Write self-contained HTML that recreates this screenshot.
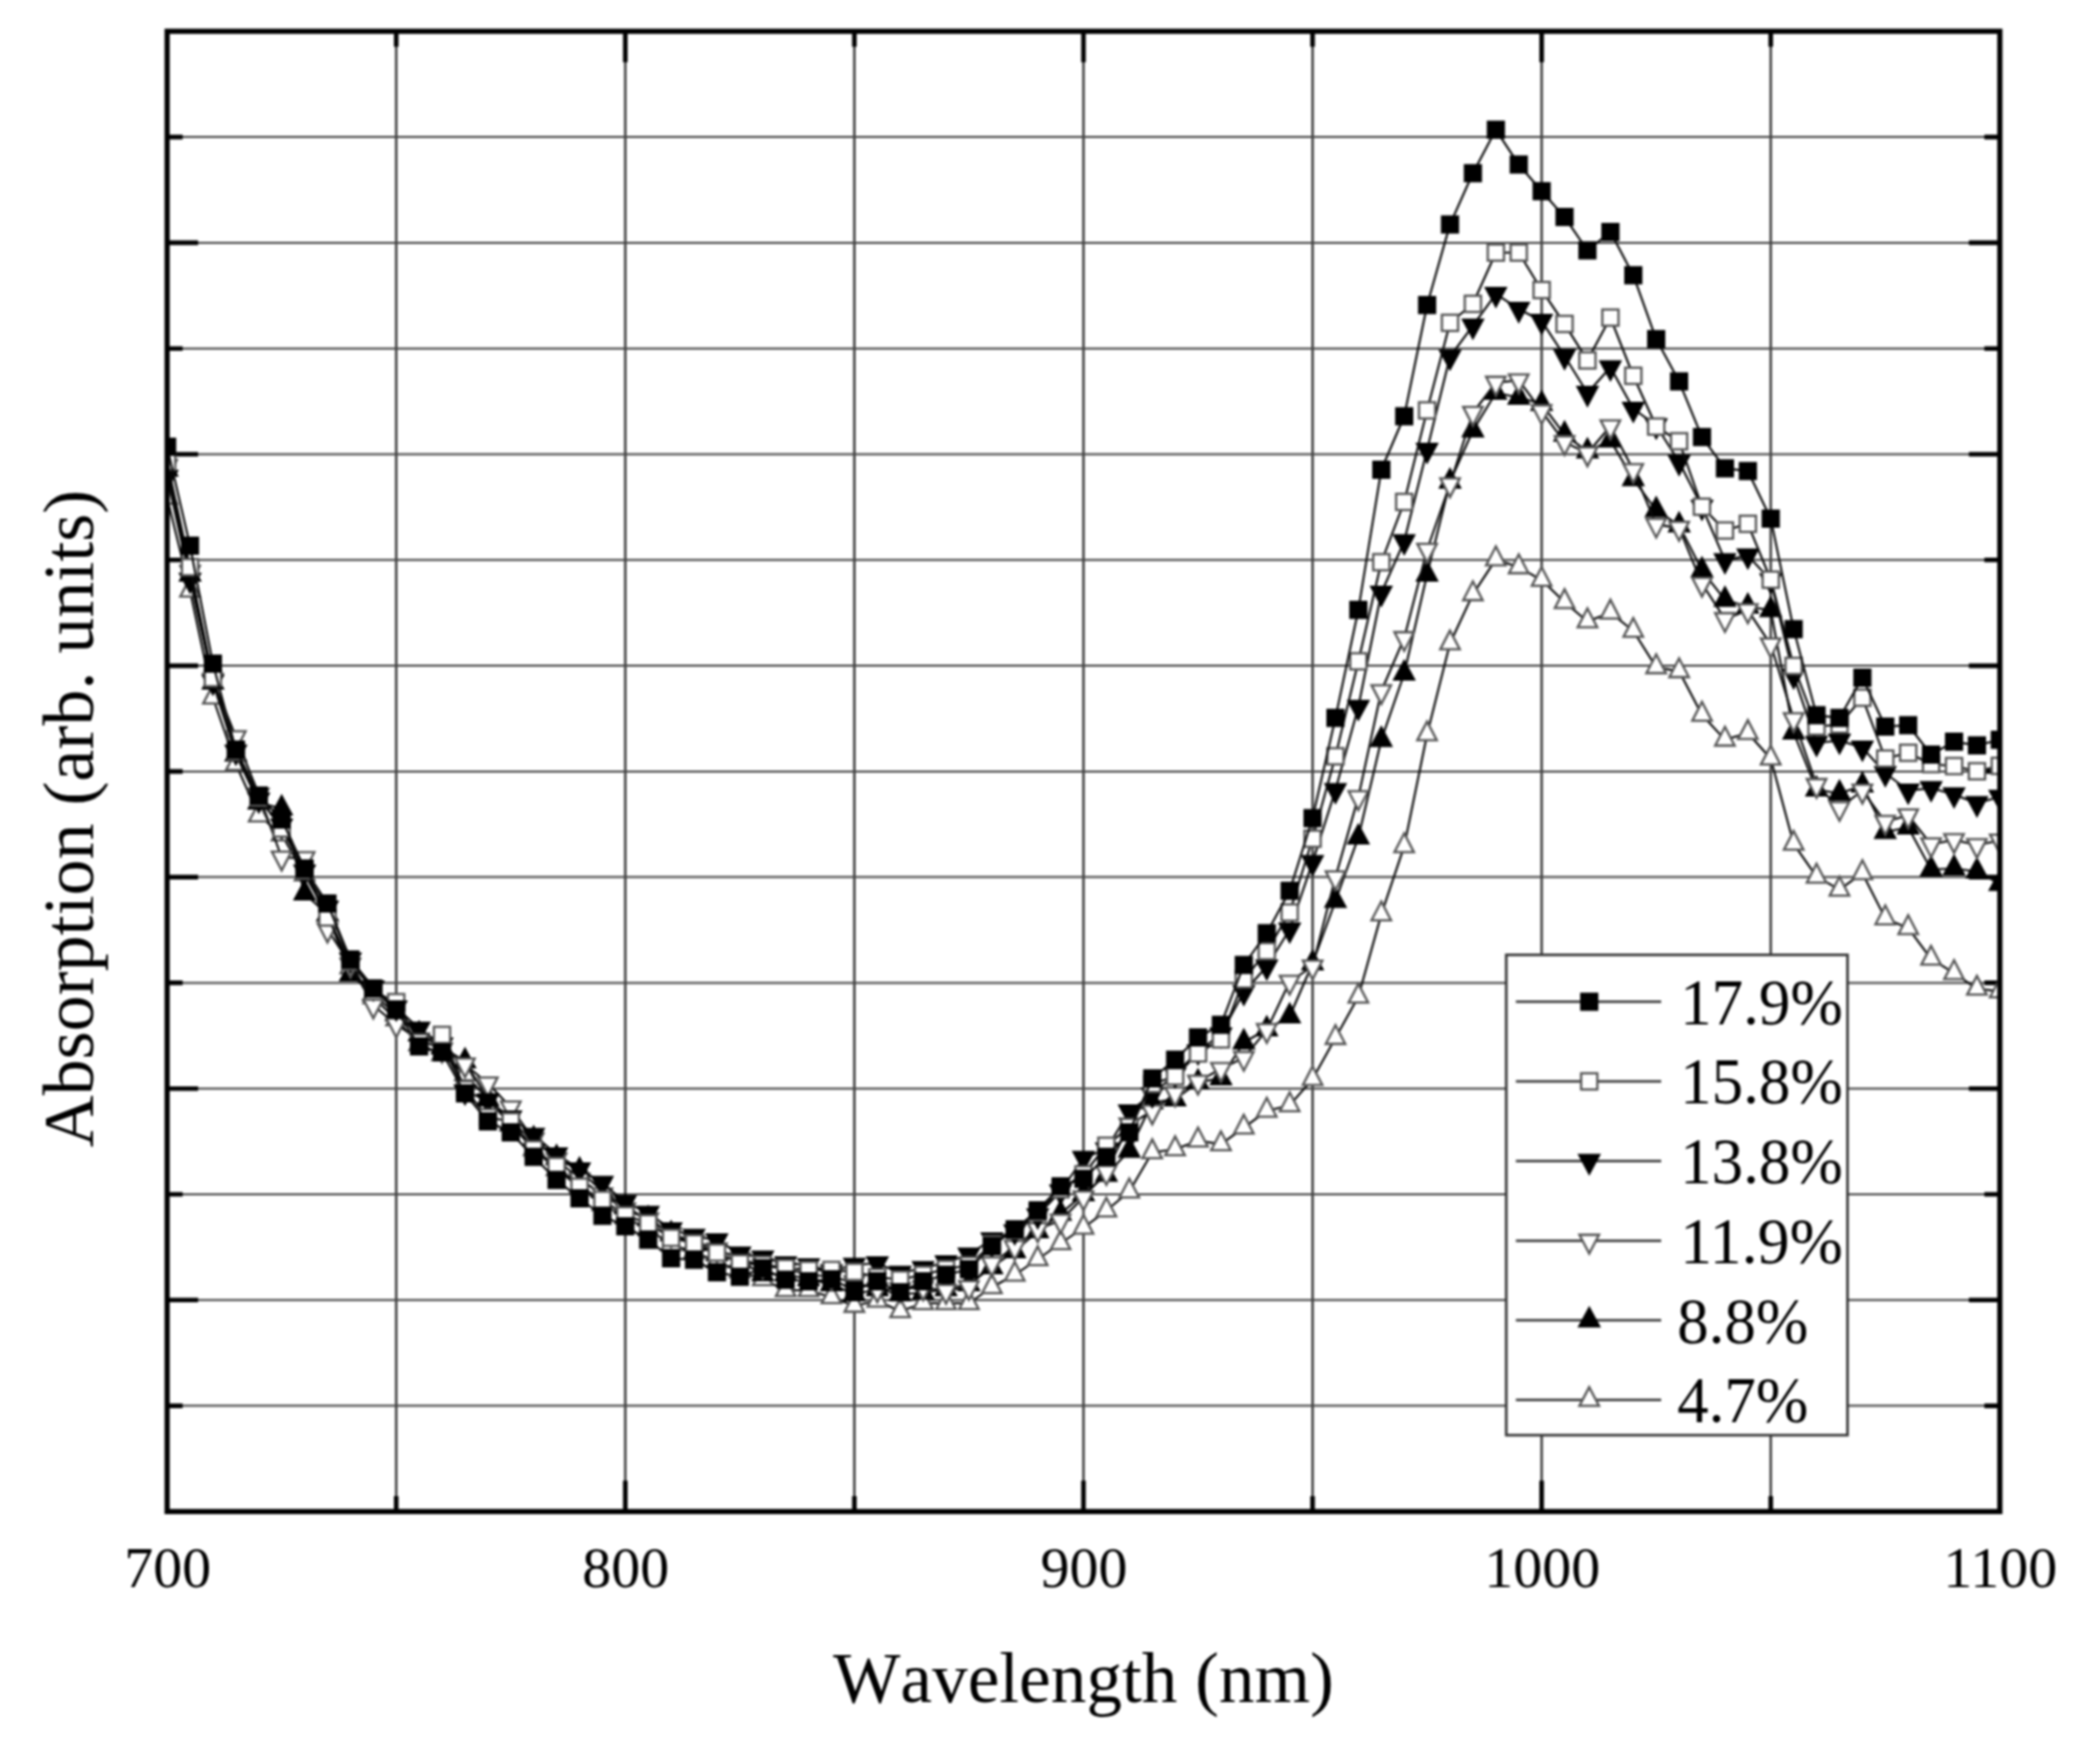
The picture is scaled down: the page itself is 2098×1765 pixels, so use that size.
<!DOCTYPE html>
<html><head><meta charset="utf-8"><title>Absorption vs Wavelength</title>
<style>
html,body{margin:0;padding:0;background:#fff;}
body{width:2098px;height:1765px;overflow:hidden;}
svg{display:block;filter:blur(0.8px);}
text{font-family:"Liberation Serif","Times New Roman",serif;fill:#000;}
.lg{font-size:64.5px;}
.tk{font-size:58px;}
.ax{font-size:72px;}
.xk{font-kerning:none;font-size:71.3px;}
</style></head><body>
<svg width="2098" height="1765" viewBox="0 0 2098 1765">
<defs><clipPath id="pc"><rect x="167.2" y="31.3" width="1833.6" height="1481.1000000000001"/></clipPath></defs>
<rect width="2098" height="1765" fill="#fff"/>
<path d="M396.4 31.3V1512.4M625.6 31.3V1512.4M854.8 31.3V1512.4M1084.0 31.3V1512.4M1313.2 31.3V1512.4M1542.4 31.3V1512.4M1771.6 31.3V1512.4" stroke="#363636" stroke-width="2.4" fill="none"/>
<path d="M167.2 137.1H2000.8M167.2 242.9H2000.8M167.2 348.7H2000.8M167.2 454.5H2000.8M167.2 560.3H2000.8M167.2 666.1H2000.8M167.2 771.9H2000.8M167.2 877.6H2000.8M167.2 983.4H2000.8M167.2 1089.2H2000.8M167.2 1195.0H2000.8M167.2 1300.8H2000.8M167.2 1406.6H2000.8" stroke="#424242" stroke-width="2.0" fill="none"/>
<path d="M396.4 1512.4v-15.5M396.4 31.3v15.5M625.6 1512.4v-31M625.6 31.3v31M854.8 1512.4v-15.5M854.8 31.3v15.5M1084.0 1512.4v-31M1084.0 31.3v31M1313.2 1512.4v-15.5M1313.2 31.3v15.5M1542.4 1512.4v-31M1542.4 31.3v31M1771.6 1512.4v-15.5M1771.6 31.3v15.5M167.2 137.1h15.5M2000.8 137.1h-15.5M167.2 242.9h31M2000.8 242.9h-31M167.2 348.7h15.5M2000.8 348.7h-15.5M167.2 454.5h31M2000.8 454.5h-31M167.2 560.3h15.5M2000.8 560.3h-15.5M167.2 666.1h31M2000.8 666.1h-31M167.2 771.9h15.5M2000.8 771.9h-15.5M167.2 877.6h31M2000.8 877.6h-31M167.2 983.4h15.5M2000.8 983.4h-15.5M167.2 1089.2h31M2000.8 1089.2h-31M167.2 1195.0h15.5M2000.8 1195.0h-15.5M167.2 1300.8h31M2000.8 1300.8h-31M167.2 1406.6h15.5M2000.8 1406.6h-15.5" stroke="#000" stroke-width="4.6" fill="none"/>
<g clip-path="url(#pc)">
<polyline points="167.2,498.0 190.1,591.0 213.0,698.0 236.0,764.5 258.9,816.0 281.8,835.0 304.7,875.0 327.6,915.0 350.6,968.0 373.5,998.0 396.4,1020.0 419.3,1045.0 442.2,1055.0 465.2,1075.0 488.1,1100.0 511.0,1125.0 533.9,1150.0 556.8,1170.0 579.8,1188.0 602.7,1205.0 625.6,1218.0 648.5,1230.0 671.4,1245.0 694.4,1253.0 717.3,1262.0 740.2,1272.0 763.1,1280.0 786.0,1291.0 809.0,1291.0 831.9,1298.0 854.8,1306.6 877.7,1301.5 900.6,1312.0 923.6,1304.0 946.5,1304.0 969.4,1304.0 992.3,1288.0 1015.2,1275.5 1038.2,1260.0 1061.1,1244.0 1084.0,1228.5 1106.9,1211.3 1129.8,1192.2 1152.8,1153.0 1175.7,1150.0 1198.6,1141.2 1221.5,1144.9 1244.4,1128.3 1267.4,1111.4 1290.3,1105.9 1313.2,1079.8 1336.1,1038.6 1359.0,997.3 1382.0,914.9 1404.9,846.7 1427.8,734.8 1450.7,643.8 1473.6,594.6 1496.6,559.7 1519.5,567.6 1542.4,580.3 1565.3,602.5 1588.2,621.7 1611.2,613.0 1634.1,631.3 1657.0,667.6 1679.9,671.6 1702.8,715.2 1725.8,740.1 1748.7,733.5 1771.6,759.0 1794.5,844.3 1817.4,877.2 1840.4,890.2 1863.3,873.7 1886.2,918.9 1909.1,928.7 1932.0,959.3 1955.0,973.7 1977.9,989.3 2000.8,991.9" fill="none" stroke="#0a0a0a" stroke-width="2.1" stroke-linejoin="round"/>
<polygon points="167.2,485.1 157.4,503.9 176.9,503.9" fill="#fff" stroke="#555" stroke-width="2.3"/>
<polygon points="190.1,578.1 180.4,596.9 199.9,596.9" fill="#fff" stroke="#555" stroke-width="2.3"/>
<polygon points="213.0,685.1 203.3,703.9 222.8,703.9" fill="#fff" stroke="#555" stroke-width="2.3"/>
<polygon points="236.0,751.6 226.2,770.4 245.7,770.4" fill="#fff" stroke="#555" stroke-width="2.3"/>
<polygon points="258.9,803.1 249.1,821.9 268.6,821.9" fill="#fff" stroke="#555" stroke-width="2.3"/>
<polygon points="281.8,822.1 272.0,840.9 291.5,840.9" fill="#fff" stroke="#555" stroke-width="2.3"/>
<polygon points="304.7,862.1 295.0,880.9 314.5,880.9" fill="#fff" stroke="#555" stroke-width="2.3"/>
<polygon points="327.6,902.1 317.9,920.9 337.4,920.9" fill="#fff" stroke="#555" stroke-width="2.3"/>
<polygon points="350.6,955.1 340.8,973.9 360.3,973.9" fill="#fff" stroke="#555" stroke-width="2.3"/>
<polygon points="373.5,985.1 363.7,1003.9 383.2,1003.9" fill="#fff" stroke="#555" stroke-width="2.3"/>
<polygon points="396.4,1007.1 386.6,1025.9 406.1,1025.9" fill="#fff" stroke="#555" stroke-width="2.3"/>
<polygon points="419.3,1032.1 409.6,1050.9 429.1,1050.9" fill="#fff" stroke="#555" stroke-width="2.3"/>
<polygon points="442.2,1042.1 432.5,1060.9 452.0,1060.9" fill="#fff" stroke="#555" stroke-width="2.3"/>
<polygon points="465.2,1062.1 455.4,1080.9 474.9,1080.9" fill="#fff" stroke="#555" stroke-width="2.3"/>
<polygon points="488.1,1087.1 478.3,1105.9 497.8,1105.9" fill="#fff" stroke="#555" stroke-width="2.3"/>
<polygon points="511.0,1112.1 501.2,1130.9 520.8,1130.9" fill="#fff" stroke="#555" stroke-width="2.3"/>
<polygon points="533.9,1137.1 524.2,1155.9 543.7,1155.9" fill="#fff" stroke="#555" stroke-width="2.3"/>
<polygon points="556.8,1157.1 547.1,1175.9 566.6,1175.9" fill="#fff" stroke="#555" stroke-width="2.3"/>
<polygon points="579.8,1175.1 570.0,1193.9 589.5,1193.9" fill="#fff" stroke="#555" stroke-width="2.3"/>
<polygon points="602.7,1192.1 592.9,1210.9 612.4,1210.9" fill="#fff" stroke="#555" stroke-width="2.3"/>
<polygon points="625.6,1205.1 615.8,1223.9 635.3,1223.9" fill="#fff" stroke="#555" stroke-width="2.3"/>
<polygon points="648.5,1217.1 638.8,1235.9 658.3,1235.9" fill="#fff" stroke="#555" stroke-width="2.3"/>
<polygon points="671.4,1232.1 661.7,1250.9 681.2,1250.9" fill="#fff" stroke="#555" stroke-width="2.3"/>
<polygon points="694.4,1240.1 684.6,1258.9 704.1,1258.9" fill="#fff" stroke="#555" stroke-width="2.3"/>
<polygon points="717.3,1249.1 707.5,1267.9 727.0,1267.9" fill="#fff" stroke="#555" stroke-width="2.3"/>
<polygon points="740.2,1259.1 730.5,1277.9 750.0,1277.9" fill="#fff" stroke="#555" stroke-width="2.3"/>
<polygon points="763.1,1267.1 753.4,1285.9 772.9,1285.9" fill="#fff" stroke="#555" stroke-width="2.3"/>
<polygon points="786.0,1278.1 776.3,1296.9 795.8,1296.9" fill="#fff" stroke="#555" stroke-width="2.3"/>
<polygon points="809.0,1278.1 799.2,1296.9 818.7,1296.9" fill="#fff" stroke="#555" stroke-width="2.3"/>
<polygon points="831.9,1285.1 822.1,1303.9 841.6,1303.9" fill="#fff" stroke="#555" stroke-width="2.3"/>
<polygon points="854.8,1293.7 845.0,1312.5 864.5,1312.5" fill="#fff" stroke="#555" stroke-width="2.3"/>
<polygon points="877.7,1288.6 868.0,1307.4 887.5,1307.4" fill="#fff" stroke="#555" stroke-width="2.3"/>
<polygon points="900.6,1299.1 890.9,1317.9 910.4,1317.9" fill="#fff" stroke="#555" stroke-width="2.3"/>
<polygon points="923.6,1291.1 913.8,1309.9 933.3,1309.9" fill="#fff" stroke="#555" stroke-width="2.3"/>
<polygon points="946.5,1291.1 936.7,1309.9 956.2,1309.9" fill="#fff" stroke="#555" stroke-width="2.3"/>
<polygon points="969.4,1291.1 959.6,1309.9 979.1,1309.9" fill="#fff" stroke="#555" stroke-width="2.3"/>
<polygon points="992.3,1275.1 982.6,1293.9 1002.1,1293.9" fill="#fff" stroke="#555" stroke-width="2.3"/>
<polygon points="1015.2,1262.6 1005.5,1281.4 1025.0,1281.4" fill="#fff" stroke="#555" stroke-width="2.3"/>
<polygon points="1038.2,1247.1 1028.4,1265.9 1047.9,1265.9" fill="#fff" stroke="#555" stroke-width="2.3"/>
<polygon points="1061.1,1231.1 1051.3,1249.9 1070.8,1249.9" fill="#fff" stroke="#555" stroke-width="2.3"/>
<polygon points="1084.0,1215.6 1074.2,1234.4 1093.8,1234.4" fill="#fff" stroke="#555" stroke-width="2.3"/>
<polygon points="1106.9,1198.4 1097.2,1217.2 1116.7,1217.2" fill="#fff" stroke="#555" stroke-width="2.3"/>
<polygon points="1129.8,1179.3 1120.1,1198.1 1139.6,1198.1" fill="#fff" stroke="#555" stroke-width="2.3"/>
<polygon points="1152.8,1140.1 1143.0,1158.9 1162.5,1158.9" fill="#fff" stroke="#555" stroke-width="2.3"/>
<polygon points="1175.7,1137.1 1165.9,1155.9 1185.4,1155.9" fill="#fff" stroke="#555" stroke-width="2.3"/>
<polygon points="1198.6,1128.3 1188.8,1147.1 1208.3,1147.1" fill="#fff" stroke="#555" stroke-width="2.3"/>
<polygon points="1221.5,1132.0 1211.8,1150.8 1231.3,1150.8" fill="#fff" stroke="#555" stroke-width="2.3"/>
<polygon points="1244.4,1115.4 1234.7,1134.2 1254.2,1134.2" fill="#fff" stroke="#555" stroke-width="2.3"/>
<polygon points="1267.4,1098.5 1257.6,1117.3 1277.1,1117.3" fill="#fff" stroke="#555" stroke-width="2.3"/>
<polygon points="1290.3,1093.0 1280.5,1111.8 1300.0,1111.8" fill="#fff" stroke="#555" stroke-width="2.3"/>
<polygon points="1313.2,1066.9 1303.5,1085.7 1323.0,1085.7" fill="#fff" stroke="#555" stroke-width="2.3"/>
<polygon points="1336.1,1025.7 1326.4,1044.5 1345.9,1044.5" fill="#fff" stroke="#555" stroke-width="2.3"/>
<polygon points="1359.0,984.4 1349.3,1003.2 1368.8,1003.2" fill="#fff" stroke="#555" stroke-width="2.3"/>
<polygon points="1382.0,902.0 1372.2,920.8 1391.7,920.8" fill="#fff" stroke="#555" stroke-width="2.3"/>
<polygon points="1404.9,833.8 1395.1,852.6 1414.6,852.6" fill="#fff" stroke="#555" stroke-width="2.3"/>
<polygon points="1427.8,721.9 1418.0,740.7 1437.5,740.7" fill="#fff" stroke="#555" stroke-width="2.3"/>
<polygon points="1450.7,630.9 1441.0,649.7 1460.5,649.7" fill="#fff" stroke="#555" stroke-width="2.3"/>
<polygon points="1473.6,581.7 1463.9,600.5 1483.4,600.5" fill="#fff" stroke="#555" stroke-width="2.3"/>
<polygon points="1496.6,546.8 1486.8,565.6 1506.3,565.6" fill="#fff" stroke="#555" stroke-width="2.3"/>
<polygon points="1519.5,554.7 1509.7,573.5 1529.2,573.5" fill="#fff" stroke="#555" stroke-width="2.3"/>
<polygon points="1542.4,567.4 1532.6,586.2 1552.1,586.2" fill="#fff" stroke="#555" stroke-width="2.3"/>
<polygon points="1565.3,589.6 1555.6,608.4 1575.1,608.4" fill="#fff" stroke="#555" stroke-width="2.3"/>
<polygon points="1588.2,608.8 1578.5,627.6 1598.0,627.6" fill="#fff" stroke="#555" stroke-width="2.3"/>
<polygon points="1611.2,600.1 1601.4,618.9 1620.9,618.9" fill="#fff" stroke="#555" stroke-width="2.3"/>
<polygon points="1634.1,618.4 1624.3,637.2 1643.8,637.2" fill="#fff" stroke="#555" stroke-width="2.3"/>
<polygon points="1657.0,654.7 1647.2,673.5 1666.8,673.5" fill="#fff" stroke="#555" stroke-width="2.3"/>
<polygon points="1679.9,658.7 1670.2,677.5 1689.7,677.5" fill="#fff" stroke="#555" stroke-width="2.3"/>
<polygon points="1702.8,702.3 1693.1,721.1 1712.6,721.1" fill="#fff" stroke="#555" stroke-width="2.3"/>
<polygon points="1725.8,727.2 1716.0,746.0 1735.5,746.0" fill="#fff" stroke="#555" stroke-width="2.3"/>
<polygon points="1748.7,720.6 1738.9,739.4 1758.4,739.4" fill="#fff" stroke="#555" stroke-width="2.3"/>
<polygon points="1771.6,746.1 1761.8,764.9 1781.3,764.9" fill="#fff" stroke="#555" stroke-width="2.3"/>
<polygon points="1794.5,831.4 1784.8,850.2 1804.3,850.2" fill="#fff" stroke="#555" stroke-width="2.3"/>
<polygon points="1817.4,864.3 1807.7,883.1 1827.2,883.1" fill="#fff" stroke="#555" stroke-width="2.3"/>
<polygon points="1840.4,877.3 1830.6,896.1 1850.1,896.1" fill="#fff" stroke="#555" stroke-width="2.3"/>
<polygon points="1863.3,860.8 1853.5,879.6 1873.0,879.6" fill="#fff" stroke="#555" stroke-width="2.3"/>
<polygon points="1886.2,906.0 1876.4,924.8 1895.9,924.8" fill="#fff" stroke="#555" stroke-width="2.3"/>
<polygon points="1909.1,915.8 1899.4,934.6 1918.9,934.6" fill="#fff" stroke="#555" stroke-width="2.3"/>
<polygon points="1932.0,946.4 1922.3,965.2 1941.8,965.2" fill="#fff" stroke="#555" stroke-width="2.3"/>
<polygon points="1955.0,960.8 1945.2,979.6 1964.7,979.6" fill="#fff" stroke="#555" stroke-width="2.3"/>
<polygon points="1977.9,976.4 1968.1,995.2 1987.6,995.2" fill="#fff" stroke="#555" stroke-width="2.3"/>
<polygon points="2000.8,979.0 1991.0,997.8 2010.5,997.8" fill="#fff" stroke="#555" stroke-width="2.3"/>
<polyline points="167.2,470.0 190.1,575.0 213.0,683.0 236.0,755.0 258.9,803.0 281.8,809.0 304.7,894.0 327.6,915.0 350.6,975.0 373.5,995.0 396.4,1015.0 419.3,1035.0 442.2,1048.0 465.2,1062.0 488.1,1100.0 511.0,1125.0 533.9,1140.0 556.8,1158.6 579.8,1171.2 602.7,1192.0 625.6,1208.0 648.5,1220.0 671.4,1235.0 694.4,1245.0 717.3,1255.0 740.2,1262.0 763.1,1275.0 786.0,1275.0 809.0,1280.0 831.9,1285.0 854.8,1295.0 877.7,1290.0 900.6,1295.0 923.6,1293.5 946.5,1290.0 969.4,1285.0 992.3,1268.0 1015.2,1252.0 1038.2,1232.0 1061.1,1214.4 1084.0,1195.0 1106.9,1175.5 1129.8,1151.4 1152.8,1103.0 1175.7,1100.0 1198.6,1083.0 1221.5,1078.9 1244.4,1043.0 1267.4,1030.0 1290.3,1017.0 1313.2,964.0 1336.1,901.4 1359.0,837.9 1382.0,740.3 1404.9,674.0 1427.8,574.8 1450.7,482.0 1473.6,430.7 1496.6,393.0 1519.5,397.8 1542.4,404.1 1565.3,434.8 1588.2,451.7 1611.2,440.6 1634.1,479.5 1657.0,510.5 1679.9,525.6 1702.8,570.8 1725.8,600.2 1748.7,607.0 1771.6,610.5 1794.5,732.9 1817.4,790.0 1840.4,794.0 1863.3,786.0 1886.2,832.5 1909.1,827.8 1932.0,870.0 1955.0,869.0 1977.9,872.0 2000.8,884.4" fill="none" stroke="#0a0a0a" stroke-width="2.1" stroke-linejoin="round"/>
<polygon points="167.2,455.3 155.4,477.1 178.9,477.1" fill="#000"/>
<polygon points="190.1,560.3 178.4,582.1 201.9,582.1" fill="#000"/>
<polygon points="213.0,668.3 201.3,690.1 224.8,690.1" fill="#000"/>
<polygon points="236.0,740.3 224.2,762.1 247.7,762.1" fill="#000"/>
<polygon points="258.9,788.3 247.1,810.1 270.6,810.1" fill="#000"/>
<polygon points="281.8,794.3 270.0,816.1 293.5,816.1" fill="#000"/>
<polygon points="304.7,879.3 293.0,901.1 316.5,901.1" fill="#000"/>
<polygon points="327.6,900.3 315.9,922.1 339.4,922.1" fill="#000"/>
<polygon points="350.6,960.3 338.8,982.1 362.3,982.1" fill="#000"/>
<polygon points="373.5,980.3 361.7,1002.1 385.2,1002.1" fill="#000"/>
<polygon points="396.4,1000.3 384.6,1022.1 408.1,1022.1" fill="#000"/>
<polygon points="419.3,1020.3 407.6,1042.1 431.1,1042.1" fill="#000"/>
<polygon points="442.2,1033.3 430.5,1055.1 454.0,1055.1" fill="#000"/>
<polygon points="465.2,1047.3 453.4,1069.1 476.9,1069.1" fill="#000"/>
<polygon points="488.1,1085.3 476.3,1107.1 499.8,1107.1" fill="#000"/>
<polygon points="511.0,1110.3 499.2,1132.1 522.8,1132.1" fill="#000"/>
<polygon points="533.9,1125.3 522.2,1147.1 545.7,1147.1" fill="#000"/>
<polygon points="556.8,1143.9 545.1,1165.7 568.6,1165.7" fill="#000"/>
<polygon points="579.8,1156.5 568.0,1178.3 591.5,1178.3" fill="#000"/>
<polygon points="602.7,1177.3 590.9,1199.1 614.4,1199.1" fill="#000"/>
<polygon points="625.6,1193.3 613.8,1215.1 637.3,1215.1" fill="#000"/>
<polygon points="648.5,1205.3 636.8,1227.1 660.3,1227.1" fill="#000"/>
<polygon points="671.4,1220.3 659.7,1242.1 683.2,1242.1" fill="#000"/>
<polygon points="694.4,1230.3 682.6,1252.1 706.1,1252.1" fill="#000"/>
<polygon points="717.3,1240.3 705.5,1262.1 729.0,1262.1" fill="#000"/>
<polygon points="740.2,1247.3 728.5,1269.1 752.0,1269.1" fill="#000"/>
<polygon points="763.1,1260.3 751.4,1282.1 774.9,1282.1" fill="#000"/>
<polygon points="786.0,1260.3 774.3,1282.1 797.8,1282.1" fill="#000"/>
<polygon points="809.0,1265.3 797.2,1287.1 820.7,1287.1" fill="#000"/>
<polygon points="831.9,1270.3 820.1,1292.1 843.6,1292.1" fill="#000"/>
<polygon points="854.8,1280.3 843.0,1302.1 866.5,1302.1" fill="#000"/>
<polygon points="877.7,1275.3 866.0,1297.1 889.5,1297.1" fill="#000"/>
<polygon points="900.6,1280.3 888.9,1302.1 912.4,1302.1" fill="#000"/>
<polygon points="923.6,1278.8 911.8,1300.6 935.3,1300.6" fill="#000"/>
<polygon points="946.5,1275.3 934.7,1297.1 958.2,1297.1" fill="#000"/>
<polygon points="969.4,1270.3 957.6,1292.1 981.1,1292.1" fill="#000"/>
<polygon points="992.3,1253.3 980.6,1275.1 1004.1,1275.1" fill="#000"/>
<polygon points="1015.2,1237.3 1003.5,1259.1 1027.0,1259.1" fill="#000"/>
<polygon points="1038.2,1217.3 1026.4,1239.1 1049.9,1239.1" fill="#000"/>
<polygon points="1061.1,1199.7 1049.3,1221.5 1072.8,1221.5" fill="#000"/>
<polygon points="1084.0,1180.3 1072.2,1202.1 1095.8,1202.1" fill="#000"/>
<polygon points="1106.9,1160.8 1095.2,1182.6 1118.7,1182.6" fill="#000"/>
<polygon points="1129.8,1136.7 1118.1,1158.5 1141.6,1158.5" fill="#000"/>
<polygon points="1152.8,1088.3 1141.0,1110.1 1164.5,1110.1" fill="#000"/>
<polygon points="1175.7,1085.3 1163.9,1107.1 1187.4,1107.1" fill="#000"/>
<polygon points="1198.6,1068.3 1186.8,1090.1 1210.3,1090.1" fill="#000"/>
<polygon points="1221.5,1064.2 1209.8,1086.0 1233.3,1086.0" fill="#000"/>
<polygon points="1244.4,1028.3 1232.7,1050.1 1256.2,1050.1" fill="#000"/>
<polygon points="1267.4,1015.3 1255.6,1037.1 1279.1,1037.1" fill="#000"/>
<polygon points="1290.3,1002.3 1278.5,1024.1 1302.0,1024.1" fill="#000"/>
<polygon points="1313.2,949.3 1301.5,971.1 1325.0,971.1" fill="#000"/>
<polygon points="1336.1,886.7 1324.4,908.5 1347.9,908.5" fill="#000"/>
<polygon points="1359.0,823.2 1347.3,845.0 1370.8,845.0" fill="#000"/>
<polygon points="1382.0,725.6 1370.2,747.4 1393.7,747.4" fill="#000"/>
<polygon points="1404.9,659.3 1393.1,681.1 1416.6,681.1" fill="#000"/>
<polygon points="1427.8,560.1 1416.0,581.9 1439.5,581.9" fill="#000"/>
<polygon points="1450.7,467.3 1439.0,489.1 1462.5,489.1" fill="#000"/>
<polygon points="1473.6,416.0 1461.9,437.8 1485.4,437.8" fill="#000"/>
<polygon points="1496.6,378.3 1484.8,400.1 1508.3,400.1" fill="#000"/>
<polygon points="1519.5,383.1 1507.7,404.9 1531.2,404.9" fill="#000"/>
<polygon points="1542.4,389.4 1530.6,411.2 1554.1,411.2" fill="#000"/>
<polygon points="1565.3,420.1 1553.6,441.9 1577.1,441.9" fill="#000"/>
<polygon points="1588.2,437.0 1576.5,458.8 1600.0,458.8" fill="#000"/>
<polygon points="1611.2,425.9 1599.4,447.7 1622.9,447.7" fill="#000"/>
<polygon points="1634.1,464.8 1622.3,486.6 1645.8,486.6" fill="#000"/>
<polygon points="1657.0,495.8 1645.2,517.6 1668.8,517.6" fill="#000"/>
<polygon points="1679.9,510.9 1668.2,532.7 1691.7,532.7" fill="#000"/>
<polygon points="1702.8,556.1 1691.1,577.9 1714.6,577.9" fill="#000"/>
<polygon points="1725.8,585.5 1714.0,607.3 1737.5,607.3" fill="#000"/>
<polygon points="1748.7,592.3 1736.9,614.1 1760.4,614.1" fill="#000"/>
<polygon points="1771.6,595.8 1759.8,617.6 1783.3,617.6" fill="#000"/>
<polygon points="1794.5,718.2 1782.8,740.0 1806.3,740.0" fill="#000"/>
<polygon points="1817.4,775.3 1805.7,797.1 1829.2,797.1" fill="#000"/>
<polygon points="1840.4,779.3 1828.6,801.1 1852.1,801.1" fill="#000"/>
<polygon points="1863.3,771.3 1851.5,793.1 1875.0,793.1" fill="#000"/>
<polygon points="1886.2,817.8 1874.4,839.6 1897.9,839.6" fill="#000"/>
<polygon points="1909.1,813.1 1897.4,834.9 1920.9,834.9" fill="#000"/>
<polygon points="1932.0,855.3 1920.3,877.1 1943.8,877.1" fill="#000"/>
<polygon points="1955.0,854.3 1943.2,876.1 1966.7,876.1" fill="#000"/>
<polygon points="1977.9,857.3 1966.1,879.1 1989.6,879.1" fill="#000"/>
<polygon points="2000.8,869.7 1989.0,891.5 2012.5,891.5" fill="#000"/>
<polyline points="167.2,466.0 190.1,572.0 213.0,680.0 236.0,737.5 258.9,795.0 281.8,858.0 304.7,858.6 327.6,930.0 350.6,965.0 373.5,1006.0 396.4,1025.0 419.3,1040.0 442.2,1050.0 465.2,1065.0 488.1,1084.0 511.0,1108.0 533.9,1140.0 556.8,1160.0 579.8,1180.0 602.7,1195.0 625.6,1210.0 648.5,1220.0 671.4,1235.0 694.4,1242.0 717.3,1250.0 740.2,1260.0 763.1,1266.0 786.0,1270.0 809.0,1275.0 831.9,1278.0 854.8,1283.0 877.7,1290.0 900.6,1290.0 923.6,1288.0 946.5,1291.5 969.4,1287.7 992.3,1264.0 1015.2,1247.6 1038.2,1229.8 1061.1,1221.2 1084.0,1198.0 1106.9,1172.6 1129.8,1125.0 1152.8,1112.0 1175.7,1094.0 1198.6,1082.2 1221.5,1069.5 1244.4,1058.4 1267.4,1030.6 1290.3,982.2 1313.2,967.0 1336.1,877.8 1359.0,797.6 1382.0,691.5 1404.9,638.4 1427.8,550.0 1450.7,484.5 1473.6,413.0 1496.6,382.9 1519.5,380.5 1542.4,411.4 1565.3,442.4 1588.2,453.5 1611.2,426.5 1634.1,470.2 1657.0,524.9 1679.9,528.1 1702.8,584.0 1725.8,619.4 1748.7,610.6 1771.6,644.8 1794.5,719.5 1817.4,785.4 1840.4,808.4 1863.3,791.0 1886.2,822.3 1909.1,815.8 1932.0,844.8 1955.0,840.5 1977.9,845.5 2000.8,841.0" fill="none" stroke="#0a0a0a" stroke-width="2.1" stroke-linejoin="round"/>
<polygon points="167.2,478.9 157.4,460.1 176.9,460.1" fill="#fff" stroke="#555" stroke-width="2.3"/>
<polygon points="190.1,584.9 180.4,566.1 199.9,566.1" fill="#fff" stroke="#555" stroke-width="2.3"/>
<polygon points="213.0,692.9 203.3,674.1 222.8,674.1" fill="#fff" stroke="#555" stroke-width="2.3"/>
<polygon points="236.0,750.4 226.2,731.6 245.7,731.6" fill="#fff" stroke="#555" stroke-width="2.3"/>
<polygon points="258.9,807.9 249.1,789.1 268.6,789.1" fill="#fff" stroke="#555" stroke-width="2.3"/>
<polygon points="281.8,870.9 272.0,852.1 291.5,852.1" fill="#fff" stroke="#555" stroke-width="2.3"/>
<polygon points="304.7,871.5 295.0,852.7 314.5,852.7" fill="#fff" stroke="#555" stroke-width="2.3"/>
<polygon points="327.6,942.9 317.9,924.1 337.4,924.1" fill="#fff" stroke="#555" stroke-width="2.3"/>
<polygon points="350.6,977.9 340.8,959.1 360.3,959.1" fill="#fff" stroke="#555" stroke-width="2.3"/>
<polygon points="373.5,1018.9 363.7,1000.1 383.2,1000.1" fill="#fff" stroke="#555" stroke-width="2.3"/>
<polygon points="396.4,1037.9 386.6,1019.1 406.1,1019.1" fill="#fff" stroke="#555" stroke-width="2.3"/>
<polygon points="419.3,1052.9 409.6,1034.1 429.1,1034.1" fill="#fff" stroke="#555" stroke-width="2.3"/>
<polygon points="442.2,1062.9 432.5,1044.1 452.0,1044.1" fill="#fff" stroke="#555" stroke-width="2.3"/>
<polygon points="465.2,1077.9 455.4,1059.1 474.9,1059.1" fill="#fff" stroke="#555" stroke-width="2.3"/>
<polygon points="488.1,1096.9 478.3,1078.1 497.8,1078.1" fill="#fff" stroke="#555" stroke-width="2.3"/>
<polygon points="511.0,1120.9 501.2,1102.1 520.8,1102.1" fill="#fff" stroke="#555" stroke-width="2.3"/>
<polygon points="533.9,1152.9 524.2,1134.1 543.7,1134.1" fill="#fff" stroke="#555" stroke-width="2.3"/>
<polygon points="556.8,1172.9 547.1,1154.1 566.6,1154.1" fill="#fff" stroke="#555" stroke-width="2.3"/>
<polygon points="579.8,1192.9 570.0,1174.1 589.5,1174.1" fill="#fff" stroke="#555" stroke-width="2.3"/>
<polygon points="602.7,1207.9 592.9,1189.1 612.4,1189.1" fill="#fff" stroke="#555" stroke-width="2.3"/>
<polygon points="625.6,1222.9 615.8,1204.1 635.3,1204.1" fill="#fff" stroke="#555" stroke-width="2.3"/>
<polygon points="648.5,1232.9 638.8,1214.1 658.3,1214.1" fill="#fff" stroke="#555" stroke-width="2.3"/>
<polygon points="671.4,1247.9 661.7,1229.1 681.2,1229.1" fill="#fff" stroke="#555" stroke-width="2.3"/>
<polygon points="694.4,1254.9 684.6,1236.1 704.1,1236.1" fill="#fff" stroke="#555" stroke-width="2.3"/>
<polygon points="717.3,1262.9 707.5,1244.1 727.0,1244.1" fill="#fff" stroke="#555" stroke-width="2.3"/>
<polygon points="740.2,1272.9 730.5,1254.1 750.0,1254.1" fill="#fff" stroke="#555" stroke-width="2.3"/>
<polygon points="763.1,1278.9 753.4,1260.1 772.9,1260.1" fill="#fff" stroke="#555" stroke-width="2.3"/>
<polygon points="786.0,1282.9 776.3,1264.1 795.8,1264.1" fill="#fff" stroke="#555" stroke-width="2.3"/>
<polygon points="809.0,1287.9 799.2,1269.1 818.7,1269.1" fill="#fff" stroke="#555" stroke-width="2.3"/>
<polygon points="831.9,1290.9 822.1,1272.1 841.6,1272.1" fill="#fff" stroke="#555" stroke-width="2.3"/>
<polygon points="854.8,1295.9 845.0,1277.1 864.5,1277.1" fill="#fff" stroke="#555" stroke-width="2.3"/>
<polygon points="877.7,1302.9 868.0,1284.1 887.5,1284.1" fill="#fff" stroke="#555" stroke-width="2.3"/>
<polygon points="900.6,1302.9 890.9,1284.1 910.4,1284.1" fill="#fff" stroke="#555" stroke-width="2.3"/>
<polygon points="923.6,1300.9 913.8,1282.1 933.3,1282.1" fill="#fff" stroke="#555" stroke-width="2.3"/>
<polygon points="946.5,1304.4 936.7,1285.6 956.2,1285.6" fill="#fff" stroke="#555" stroke-width="2.3"/>
<polygon points="969.4,1300.6 959.6,1281.8 979.1,1281.8" fill="#fff" stroke="#555" stroke-width="2.3"/>
<polygon points="992.3,1276.9 982.6,1258.1 1002.1,1258.1" fill="#fff" stroke="#555" stroke-width="2.3"/>
<polygon points="1015.2,1260.5 1005.5,1241.7 1025.0,1241.7" fill="#fff" stroke="#555" stroke-width="2.3"/>
<polygon points="1038.2,1242.7 1028.4,1223.9 1047.9,1223.9" fill="#fff" stroke="#555" stroke-width="2.3"/>
<polygon points="1061.1,1234.1 1051.3,1215.3 1070.8,1215.3" fill="#fff" stroke="#555" stroke-width="2.3"/>
<polygon points="1084.0,1210.9 1074.2,1192.1 1093.8,1192.1" fill="#fff" stroke="#555" stroke-width="2.3"/>
<polygon points="1106.9,1185.5 1097.2,1166.7 1116.7,1166.7" fill="#fff" stroke="#555" stroke-width="2.3"/>
<polygon points="1129.8,1137.9 1120.1,1119.1 1139.6,1119.1" fill="#fff" stroke="#555" stroke-width="2.3"/>
<polygon points="1152.8,1124.9 1143.0,1106.1 1162.5,1106.1" fill="#fff" stroke="#555" stroke-width="2.3"/>
<polygon points="1175.7,1106.9 1165.9,1088.1 1185.4,1088.1" fill="#fff" stroke="#555" stroke-width="2.3"/>
<polygon points="1198.6,1095.1 1188.8,1076.3 1208.3,1076.3" fill="#fff" stroke="#555" stroke-width="2.3"/>
<polygon points="1221.5,1082.4 1211.8,1063.6 1231.3,1063.6" fill="#fff" stroke="#555" stroke-width="2.3"/>
<polygon points="1244.4,1071.3 1234.7,1052.5 1254.2,1052.5" fill="#fff" stroke="#555" stroke-width="2.3"/>
<polygon points="1267.4,1043.5 1257.6,1024.7 1277.1,1024.7" fill="#fff" stroke="#555" stroke-width="2.3"/>
<polygon points="1290.3,995.1 1280.5,976.3 1300.0,976.3" fill="#fff" stroke="#555" stroke-width="2.3"/>
<polygon points="1313.2,979.9 1303.5,961.1 1323.0,961.1" fill="#fff" stroke="#555" stroke-width="2.3"/>
<polygon points="1336.1,890.7 1326.4,871.9 1345.9,871.9" fill="#fff" stroke="#555" stroke-width="2.3"/>
<polygon points="1359.0,810.5 1349.3,791.7 1368.8,791.7" fill="#fff" stroke="#555" stroke-width="2.3"/>
<polygon points="1382.0,704.4 1372.2,685.6 1391.7,685.6" fill="#fff" stroke="#555" stroke-width="2.3"/>
<polygon points="1404.9,651.3 1395.1,632.5 1414.6,632.5" fill="#fff" stroke="#555" stroke-width="2.3"/>
<polygon points="1427.8,562.9 1418.0,544.1 1437.5,544.1" fill="#fff" stroke="#555" stroke-width="2.3"/>
<polygon points="1450.7,497.4 1441.0,478.6 1460.5,478.6" fill="#fff" stroke="#555" stroke-width="2.3"/>
<polygon points="1473.6,425.9 1463.9,407.1 1483.4,407.1" fill="#fff" stroke="#555" stroke-width="2.3"/>
<polygon points="1496.6,395.8 1486.8,377.0 1506.3,377.0" fill="#fff" stroke="#555" stroke-width="2.3"/>
<polygon points="1519.5,393.4 1509.7,374.6 1529.2,374.6" fill="#fff" stroke="#555" stroke-width="2.3"/>
<polygon points="1542.4,424.3 1532.6,405.5 1552.1,405.5" fill="#fff" stroke="#555" stroke-width="2.3"/>
<polygon points="1565.3,455.3 1555.6,436.5 1575.1,436.5" fill="#fff" stroke="#555" stroke-width="2.3"/>
<polygon points="1588.2,466.4 1578.5,447.6 1598.0,447.6" fill="#fff" stroke="#555" stroke-width="2.3"/>
<polygon points="1611.2,439.4 1601.4,420.6 1620.9,420.6" fill="#fff" stroke="#555" stroke-width="2.3"/>
<polygon points="1634.1,483.1 1624.3,464.3 1643.8,464.3" fill="#fff" stroke="#555" stroke-width="2.3"/>
<polygon points="1657.0,537.8 1647.2,519.0 1666.8,519.0" fill="#fff" stroke="#555" stroke-width="2.3"/>
<polygon points="1679.9,541.0 1670.2,522.2 1689.7,522.2" fill="#fff" stroke="#555" stroke-width="2.3"/>
<polygon points="1702.8,596.9 1693.1,578.1 1712.6,578.1" fill="#fff" stroke="#555" stroke-width="2.3"/>
<polygon points="1725.8,632.3 1716.0,613.5 1735.5,613.5" fill="#fff" stroke="#555" stroke-width="2.3"/>
<polygon points="1748.7,623.5 1738.9,604.7 1758.4,604.7" fill="#fff" stroke="#555" stroke-width="2.3"/>
<polygon points="1771.6,657.7 1761.8,638.9 1781.3,638.9" fill="#fff" stroke="#555" stroke-width="2.3"/>
<polygon points="1794.5,732.4 1784.8,713.6 1804.3,713.6" fill="#fff" stroke="#555" stroke-width="2.3"/>
<polygon points="1817.4,798.3 1807.7,779.5 1827.2,779.5" fill="#fff" stroke="#555" stroke-width="2.3"/>
<polygon points="1840.4,821.3 1830.6,802.5 1850.1,802.5" fill="#fff" stroke="#555" stroke-width="2.3"/>
<polygon points="1863.3,803.9 1853.5,785.1 1873.0,785.1" fill="#fff" stroke="#555" stroke-width="2.3"/>
<polygon points="1886.2,835.2 1876.4,816.4 1895.9,816.4" fill="#fff" stroke="#555" stroke-width="2.3"/>
<polygon points="1909.1,828.7 1899.4,809.9 1918.9,809.9" fill="#fff" stroke="#555" stroke-width="2.3"/>
<polygon points="1932.0,857.7 1922.3,838.9 1941.8,838.9" fill="#fff" stroke="#555" stroke-width="2.3"/>
<polygon points="1955.0,853.4 1945.2,834.6 1964.7,834.6" fill="#fff" stroke="#555" stroke-width="2.3"/>
<polygon points="1977.9,858.4 1968.1,839.6 1987.6,839.6" fill="#fff" stroke="#555" stroke-width="2.3"/>
<polygon points="2000.8,853.9 1991.0,835.1 2010.5,835.1" fill="#fff" stroke="#555" stroke-width="2.3"/>
<polyline points="167.2,477.0 190.1,580.0 213.0,682.0 236.0,752.0 258.9,800.0 281.8,826.0 304.7,872.0 327.6,908.0 350.6,960.0 373.5,988.0 396.4,1008.0 419.3,1029.3 442.2,1045.0 465.2,1092.0 488.1,1101.0 511.0,1118.0 533.9,1135.5 556.8,1155.0 579.8,1170.0 602.7,1183.7 625.6,1203.0 648.5,1213.6 671.4,1230.0 694.4,1236.7 717.3,1241.0 740.2,1254.4 763.1,1258.3 786.0,1264.0 809.0,1266.0 831.9,1272.0 854.8,1265.5 877.7,1264.0 900.6,1273.7 923.6,1268.9 946.5,1263.1 969.4,1255.4 992.3,1240.0 1015.2,1232.0 1038.2,1216.0 1061.1,1192.0 1084.0,1158.5 1106.9,1150.0 1129.8,1112.0 1152.8,1095.0 1175.7,1075.0 1198.6,1052.0 1221.5,1035.0 1244.4,992.5 1267.4,967.0 1290.3,930.0 1313.2,862.7 1336.1,790.5 1359.0,707.3 1382.0,593.2 1404.9,541.6 1427.8,450.0 1450.7,356.8 1473.6,325.9 1496.6,294.1 1519.5,309.2 1542.4,321.1 1565.3,356.3 1588.2,393.2 1611.2,367.5 1634.1,409.0 1657.0,425.7 1679.9,462.2 1702.8,507.0 1725.8,560.6 1748.7,555.9 1771.6,580.5 1794.5,675.9 1817.4,743.3 1840.4,741.0 1863.3,748.1 1886.2,773.5 1909.1,791.0 1932.0,788.6 1955.0,794.9 1977.9,803.7 2000.8,797.3" fill="none" stroke="#0a0a0a" stroke-width="2.1" stroke-linejoin="round"/>
<polygon points="167.2,491.7 155.4,469.9 178.9,469.9" fill="#000"/>
<polygon points="190.1,594.7 178.4,572.9 201.9,572.9" fill="#000"/>
<polygon points="213.0,696.7 201.3,674.9 224.8,674.9" fill="#000"/>
<polygon points="236.0,766.7 224.2,744.9 247.7,744.9" fill="#000"/>
<polygon points="258.9,814.7 247.1,792.9 270.6,792.9" fill="#000"/>
<polygon points="281.8,840.7 270.0,818.9 293.5,818.9" fill="#000"/>
<polygon points="304.7,886.7 293.0,864.9 316.5,864.9" fill="#000"/>
<polygon points="327.6,922.7 315.9,900.9 339.4,900.9" fill="#000"/>
<polygon points="350.6,974.7 338.8,952.9 362.3,952.9" fill="#000"/>
<polygon points="373.5,1002.7 361.7,980.9 385.2,980.9" fill="#000"/>
<polygon points="396.4,1022.7 384.6,1000.9 408.1,1000.9" fill="#000"/>
<polygon points="419.3,1044.0 407.6,1022.2 431.1,1022.2" fill="#000"/>
<polygon points="442.2,1059.7 430.5,1037.9 454.0,1037.9" fill="#000"/>
<polygon points="465.2,1106.7 453.4,1084.9 476.9,1084.9" fill="#000"/>
<polygon points="488.1,1115.7 476.3,1093.9 499.8,1093.9" fill="#000"/>
<polygon points="511.0,1132.7 499.2,1110.9 522.8,1110.9" fill="#000"/>
<polygon points="533.9,1150.2 522.2,1128.4 545.7,1128.4" fill="#000"/>
<polygon points="556.8,1169.7 545.1,1147.9 568.6,1147.9" fill="#000"/>
<polygon points="579.8,1184.7 568.0,1162.9 591.5,1162.9" fill="#000"/>
<polygon points="602.7,1198.4 590.9,1176.6 614.4,1176.6" fill="#000"/>
<polygon points="625.6,1217.7 613.8,1195.9 637.3,1195.9" fill="#000"/>
<polygon points="648.5,1228.3 636.8,1206.5 660.3,1206.5" fill="#000"/>
<polygon points="671.4,1244.7 659.7,1222.9 683.2,1222.9" fill="#000"/>
<polygon points="694.4,1251.4 682.6,1229.6 706.1,1229.6" fill="#000"/>
<polygon points="717.3,1255.7 705.5,1233.9 729.0,1233.9" fill="#000"/>
<polygon points="740.2,1269.1 728.5,1247.3 752.0,1247.3" fill="#000"/>
<polygon points="763.1,1273.0 751.4,1251.2 774.9,1251.2" fill="#000"/>
<polygon points="786.0,1278.7 774.3,1256.9 797.8,1256.9" fill="#000"/>
<polygon points="809.0,1280.7 797.2,1258.9 820.7,1258.9" fill="#000"/>
<polygon points="831.9,1286.7 820.1,1264.9 843.6,1264.9" fill="#000"/>
<polygon points="854.8,1280.2 843.0,1258.4 866.5,1258.4" fill="#000"/>
<polygon points="877.7,1278.7 866.0,1256.9 889.5,1256.9" fill="#000"/>
<polygon points="900.6,1288.4 888.9,1266.6 912.4,1266.6" fill="#000"/>
<polygon points="923.6,1283.6 911.8,1261.8 935.3,1261.8" fill="#000"/>
<polygon points="946.5,1277.8 934.7,1256.0 958.2,1256.0" fill="#000"/>
<polygon points="969.4,1270.1 957.6,1248.3 981.1,1248.3" fill="#000"/>
<polygon points="992.3,1254.7 980.6,1232.9 1004.1,1232.9" fill="#000"/>
<polygon points="1015.2,1246.7 1003.5,1224.9 1027.0,1224.9" fill="#000"/>
<polygon points="1038.2,1230.7 1026.4,1208.9 1049.9,1208.9" fill="#000"/>
<polygon points="1061.1,1206.7 1049.3,1184.9 1072.8,1184.9" fill="#000"/>
<polygon points="1084.0,1173.2 1072.2,1151.4 1095.8,1151.4" fill="#000"/>
<polygon points="1106.9,1164.7 1095.2,1142.9 1118.7,1142.9" fill="#000"/>
<polygon points="1129.8,1126.7 1118.1,1104.9 1141.6,1104.9" fill="#000"/>
<polygon points="1152.8,1109.7 1141.0,1087.9 1164.5,1087.9" fill="#000"/>
<polygon points="1175.7,1089.7 1163.9,1067.9 1187.4,1067.9" fill="#000"/>
<polygon points="1198.6,1066.7 1186.8,1044.9 1210.3,1044.9" fill="#000"/>
<polygon points="1221.5,1049.7 1209.8,1027.9 1233.3,1027.9" fill="#000"/>
<polygon points="1244.4,1007.2 1232.7,985.4 1256.2,985.4" fill="#000"/>
<polygon points="1267.4,981.7 1255.6,959.9 1279.1,959.9" fill="#000"/>
<polygon points="1290.3,944.7 1278.5,922.9 1302.0,922.9" fill="#000"/>
<polygon points="1313.2,877.4 1301.5,855.6 1325.0,855.6" fill="#000"/>
<polygon points="1336.1,805.2 1324.4,783.4 1347.9,783.4" fill="#000"/>
<polygon points="1359.0,722.0 1347.3,700.2 1370.8,700.2" fill="#000"/>
<polygon points="1382.0,607.9 1370.2,586.1 1393.7,586.1" fill="#000"/>
<polygon points="1404.9,556.3 1393.1,534.5 1416.6,534.5" fill="#000"/>
<polygon points="1427.8,464.7 1416.0,442.9 1439.5,442.9" fill="#000"/>
<polygon points="1450.7,371.5 1439.0,349.7 1462.5,349.7" fill="#000"/>
<polygon points="1473.6,340.6 1461.9,318.8 1485.4,318.8" fill="#000"/>
<polygon points="1496.6,308.8 1484.8,287.0 1508.3,287.0" fill="#000"/>
<polygon points="1519.5,323.9 1507.7,302.1 1531.2,302.1" fill="#000"/>
<polygon points="1542.4,335.8 1530.6,314.0 1554.1,314.0" fill="#000"/>
<polygon points="1565.3,371.0 1553.6,349.2 1577.1,349.2" fill="#000"/>
<polygon points="1588.2,407.9 1576.5,386.1 1600.0,386.1" fill="#000"/>
<polygon points="1611.2,382.2 1599.4,360.4 1622.9,360.4" fill="#000"/>
<polygon points="1634.1,423.7 1622.3,401.9 1645.8,401.9" fill="#000"/>
<polygon points="1657.0,440.4 1645.2,418.6 1668.8,418.6" fill="#000"/>
<polygon points="1679.9,476.9 1668.2,455.1 1691.7,455.1" fill="#000"/>
<polygon points="1702.8,521.7 1691.1,499.9 1714.6,499.9" fill="#000"/>
<polygon points="1725.8,575.3 1714.0,553.5 1737.5,553.5" fill="#000"/>
<polygon points="1748.7,570.6 1736.9,548.8 1760.4,548.8" fill="#000"/>
<polygon points="1771.6,595.2 1759.8,573.4 1783.3,573.4" fill="#000"/>
<polygon points="1794.5,690.6 1782.8,668.8 1806.3,668.8" fill="#000"/>
<polygon points="1817.4,758.0 1805.7,736.2 1829.2,736.2" fill="#000"/>
<polygon points="1840.4,755.7 1828.6,733.9 1852.1,733.9" fill="#000"/>
<polygon points="1863.3,762.8 1851.5,741.0 1875.0,741.0" fill="#000"/>
<polygon points="1886.2,788.2 1874.4,766.4 1897.9,766.4" fill="#000"/>
<polygon points="1909.1,805.7 1897.4,783.9 1920.9,783.9" fill="#000"/>
<polygon points="1932.0,803.3 1920.3,781.5 1943.8,781.5" fill="#000"/>
<polygon points="1955.0,809.6 1943.2,787.8 1966.7,787.8" fill="#000"/>
<polygon points="1977.9,818.4 1966.1,796.6 1989.6,796.6" fill="#000"/>
<polygon points="2000.8,812.0 1989.0,790.2 2012.5,790.2" fill="#000"/>
<polyline points="167.2,462.0 190.1,567.5 213.0,678.5 236.0,752.0 258.9,798.0 281.8,829.0 304.7,871.0 327.6,918.0 350.6,962.0 373.5,992.0 396.4,1002.7 419.3,1043.0 442.2,1035.5 465.2,1090.0 488.1,1118.0 511.0,1122.0 533.9,1150.0 556.8,1166.7 579.8,1187.4 602.7,1200.5 625.6,1216.0 648.5,1224.0 671.4,1238.5 694.4,1244.0 717.3,1253.3 740.2,1264.0 763.1,1265.4 786.0,1268.8 809.0,1270.7 831.9,1270.7 854.8,1272.6 877.7,1278.0 900.6,1280.3 923.6,1275.5 946.5,1269.7 969.4,1266.0 992.3,1245.0 1015.2,1231.0 1038.2,1213.0 1061.1,1190.0 1084.0,1175.0 1106.9,1146.4 1129.8,1127.6 1152.8,1084.5 1175.7,1077.0 1198.6,1054.0 1221.5,1040.0 1244.4,980.0 1267.4,951.7 1290.3,913.0 1313.2,839.2 1336.1,756.7 1359.0,661.7 1382.0,562.5 1404.9,502.2 1427.8,410.6 1450.7,323.0 1473.6,304.0 1496.6,252.7 1519.5,252.7 1542.4,290.2 1565.3,324.1 1588.2,360.6 1611.2,317.8 1634.1,376.0 1657.0,426.8 1679.9,441.5 1702.8,507.0 1725.8,530.8 1748.7,524.1 1771.6,580.0 1794.5,666.3 1817.4,727.0 1840.4,725.0 1863.3,698.1 1886.2,759.0 1909.1,753.2 1932.0,764.5 1955.0,766.5 1977.9,771.7 2000.8,766.3" fill="none" stroke="#0a0a0a" stroke-width="2.1" stroke-linejoin="round"/>
<rect x="159.1" y="453.9" width="16.2" height="16.2" fill="#fff" stroke="#555" stroke-width="2.3"/>
<rect x="182.0" y="559.4" width="16.2" height="16.2" fill="#fff" stroke="#555" stroke-width="2.3"/>
<rect x="204.9" y="670.4" width="16.2" height="16.2" fill="#fff" stroke="#555" stroke-width="2.3"/>
<rect x="227.9" y="743.9" width="16.2" height="16.2" fill="#fff" stroke="#555" stroke-width="2.3"/>
<rect x="250.8" y="789.9" width="16.2" height="16.2" fill="#fff" stroke="#555" stroke-width="2.3"/>
<rect x="273.7" y="820.9" width="16.2" height="16.2" fill="#fff" stroke="#555" stroke-width="2.3"/>
<rect x="296.6" y="862.9" width="16.2" height="16.2" fill="#fff" stroke="#555" stroke-width="2.3"/>
<rect x="319.5" y="909.9" width="16.2" height="16.2" fill="#fff" stroke="#555" stroke-width="2.3"/>
<rect x="342.5" y="953.9" width="16.2" height="16.2" fill="#fff" stroke="#555" stroke-width="2.3"/>
<rect x="365.4" y="983.9" width="16.2" height="16.2" fill="#fff" stroke="#555" stroke-width="2.3"/>
<rect x="388.3" y="994.6" width="16.2" height="16.2" fill="#fff" stroke="#555" stroke-width="2.3"/>
<rect x="411.2" y="1034.9" width="16.2" height="16.2" fill="#fff" stroke="#555" stroke-width="2.3"/>
<rect x="434.1" y="1027.4" width="16.2" height="16.2" fill="#fff" stroke="#555" stroke-width="2.3"/>
<rect x="457.1" y="1081.9" width="16.2" height="16.2" fill="#fff" stroke="#555" stroke-width="2.3"/>
<rect x="480.0" y="1109.9" width="16.2" height="16.2" fill="#fff" stroke="#555" stroke-width="2.3"/>
<rect x="502.9" y="1113.9" width="16.2" height="16.2" fill="#fff" stroke="#555" stroke-width="2.3"/>
<rect x="525.8" y="1141.9" width="16.2" height="16.2" fill="#fff" stroke="#555" stroke-width="2.3"/>
<rect x="548.7" y="1158.6" width="16.2" height="16.2" fill="#fff" stroke="#555" stroke-width="2.3"/>
<rect x="571.7" y="1179.3" width="16.2" height="16.2" fill="#fff" stroke="#555" stroke-width="2.3"/>
<rect x="594.6" y="1192.4" width="16.2" height="16.2" fill="#fff" stroke="#555" stroke-width="2.3"/>
<rect x="617.5" y="1207.9" width="16.2" height="16.2" fill="#fff" stroke="#555" stroke-width="2.3"/>
<rect x="640.4" y="1215.9" width="16.2" height="16.2" fill="#fff" stroke="#555" stroke-width="2.3"/>
<rect x="663.3" y="1230.4" width="16.2" height="16.2" fill="#fff" stroke="#555" stroke-width="2.3"/>
<rect x="686.3" y="1235.9" width="16.2" height="16.2" fill="#fff" stroke="#555" stroke-width="2.3"/>
<rect x="709.2" y="1245.2" width="16.2" height="16.2" fill="#fff" stroke="#555" stroke-width="2.3"/>
<rect x="732.1" y="1255.9" width="16.2" height="16.2" fill="#fff" stroke="#555" stroke-width="2.3"/>
<rect x="755.0" y="1257.3" width="16.2" height="16.2" fill="#fff" stroke="#555" stroke-width="2.3"/>
<rect x="777.9" y="1260.7" width="16.2" height="16.2" fill="#fff" stroke="#555" stroke-width="2.3"/>
<rect x="800.9" y="1262.6" width="16.2" height="16.2" fill="#fff" stroke="#555" stroke-width="2.3"/>
<rect x="823.8" y="1262.6" width="16.2" height="16.2" fill="#fff" stroke="#555" stroke-width="2.3"/>
<rect x="846.7" y="1264.5" width="16.2" height="16.2" fill="#fff" stroke="#555" stroke-width="2.3"/>
<rect x="869.6" y="1269.9" width="16.2" height="16.2" fill="#fff" stroke="#555" stroke-width="2.3"/>
<rect x="892.5" y="1272.2" width="16.2" height="16.2" fill="#fff" stroke="#555" stroke-width="2.3"/>
<rect x="915.5" y="1267.4" width="16.2" height="16.2" fill="#fff" stroke="#555" stroke-width="2.3"/>
<rect x="938.4" y="1261.6" width="16.2" height="16.2" fill="#fff" stroke="#555" stroke-width="2.3"/>
<rect x="961.3" y="1257.9" width="16.2" height="16.2" fill="#fff" stroke="#555" stroke-width="2.3"/>
<rect x="984.2" y="1236.9" width="16.2" height="16.2" fill="#fff" stroke="#555" stroke-width="2.3"/>
<rect x="1007.1" y="1222.9" width="16.2" height="16.2" fill="#fff" stroke="#555" stroke-width="2.3"/>
<rect x="1030.1" y="1204.9" width="16.2" height="16.2" fill="#fff" stroke="#555" stroke-width="2.3"/>
<rect x="1053.0" y="1181.9" width="16.2" height="16.2" fill="#fff" stroke="#555" stroke-width="2.3"/>
<rect x="1075.9" y="1166.9" width="16.2" height="16.2" fill="#fff" stroke="#555" stroke-width="2.3"/>
<rect x="1098.8" y="1138.3" width="16.2" height="16.2" fill="#fff" stroke="#555" stroke-width="2.3"/>
<rect x="1121.7" y="1119.5" width="16.2" height="16.2" fill="#fff" stroke="#555" stroke-width="2.3"/>
<rect x="1144.7" y="1076.4" width="16.2" height="16.2" fill="#fff" stroke="#555" stroke-width="2.3"/>
<rect x="1167.6" y="1068.9" width="16.2" height="16.2" fill="#fff" stroke="#555" stroke-width="2.3"/>
<rect x="1190.5" y="1045.9" width="16.2" height="16.2" fill="#fff" stroke="#555" stroke-width="2.3"/>
<rect x="1213.4" y="1031.9" width="16.2" height="16.2" fill="#fff" stroke="#555" stroke-width="2.3"/>
<rect x="1236.3" y="971.9" width="16.2" height="16.2" fill="#fff" stroke="#555" stroke-width="2.3"/>
<rect x="1259.3" y="943.6" width="16.2" height="16.2" fill="#fff" stroke="#555" stroke-width="2.3"/>
<rect x="1282.2" y="904.9" width="16.2" height="16.2" fill="#fff" stroke="#555" stroke-width="2.3"/>
<rect x="1305.1" y="831.1" width="16.2" height="16.2" fill="#fff" stroke="#555" stroke-width="2.3"/>
<rect x="1328.0" y="748.6" width="16.2" height="16.2" fill="#fff" stroke="#555" stroke-width="2.3"/>
<rect x="1350.9" y="653.6" width="16.2" height="16.2" fill="#fff" stroke="#555" stroke-width="2.3"/>
<rect x="1373.9" y="554.4" width="16.2" height="16.2" fill="#fff" stroke="#555" stroke-width="2.3"/>
<rect x="1396.8" y="494.1" width="16.2" height="16.2" fill="#fff" stroke="#555" stroke-width="2.3"/>
<rect x="1419.7" y="402.5" width="16.2" height="16.2" fill="#fff" stroke="#555" stroke-width="2.3"/>
<rect x="1442.6" y="314.9" width="16.2" height="16.2" fill="#fff" stroke="#555" stroke-width="2.3"/>
<rect x="1465.5" y="295.9" width="16.2" height="16.2" fill="#fff" stroke="#555" stroke-width="2.3"/>
<rect x="1488.5" y="244.6" width="16.2" height="16.2" fill="#fff" stroke="#555" stroke-width="2.3"/>
<rect x="1511.4" y="244.6" width="16.2" height="16.2" fill="#fff" stroke="#555" stroke-width="2.3"/>
<rect x="1534.3" y="282.1" width="16.2" height="16.2" fill="#fff" stroke="#555" stroke-width="2.3"/>
<rect x="1557.2" y="316.0" width="16.2" height="16.2" fill="#fff" stroke="#555" stroke-width="2.3"/>
<rect x="1580.1" y="352.5" width="16.2" height="16.2" fill="#fff" stroke="#555" stroke-width="2.3"/>
<rect x="1603.1" y="309.7" width="16.2" height="16.2" fill="#fff" stroke="#555" stroke-width="2.3"/>
<rect x="1626.0" y="367.9" width="16.2" height="16.2" fill="#fff" stroke="#555" stroke-width="2.3"/>
<rect x="1648.9" y="418.7" width="16.2" height="16.2" fill="#fff" stroke="#555" stroke-width="2.3"/>
<rect x="1671.8" y="433.4" width="16.2" height="16.2" fill="#fff" stroke="#555" stroke-width="2.3"/>
<rect x="1694.7" y="498.9" width="16.2" height="16.2" fill="#fff" stroke="#555" stroke-width="2.3"/>
<rect x="1717.7" y="522.7" width="16.2" height="16.2" fill="#fff" stroke="#555" stroke-width="2.3"/>
<rect x="1740.6" y="516.0" width="16.2" height="16.2" fill="#fff" stroke="#555" stroke-width="2.3"/>
<rect x="1763.5" y="571.9" width="16.2" height="16.2" fill="#fff" stroke="#555" stroke-width="2.3"/>
<rect x="1786.4" y="658.2" width="16.2" height="16.2" fill="#fff" stroke="#555" stroke-width="2.3"/>
<rect x="1809.3" y="718.9" width="16.2" height="16.2" fill="#fff" stroke="#555" stroke-width="2.3"/>
<rect x="1832.3" y="716.9" width="16.2" height="16.2" fill="#fff" stroke="#555" stroke-width="2.3"/>
<rect x="1855.2" y="690.0" width="16.2" height="16.2" fill="#fff" stroke="#555" stroke-width="2.3"/>
<rect x="1878.1" y="750.9" width="16.2" height="16.2" fill="#fff" stroke="#555" stroke-width="2.3"/>
<rect x="1901.0" y="745.1" width="16.2" height="16.2" fill="#fff" stroke="#555" stroke-width="2.3"/>
<rect x="1923.9" y="756.4" width="16.2" height="16.2" fill="#fff" stroke="#555" stroke-width="2.3"/>
<rect x="1946.9" y="758.4" width="16.2" height="16.2" fill="#fff" stroke="#555" stroke-width="2.3"/>
<rect x="1969.8" y="763.6" width="16.2" height="16.2" fill="#fff" stroke="#555" stroke-width="2.3"/>
<rect x="1992.7" y="758.2" width="16.2" height="16.2" fill="#fff" stroke="#555" stroke-width="2.3"/>
<polyline points="167.2,447.0 190.1,546.0 213.0,664.0 236.0,750.0 258.9,796.0 281.8,820.0 304.7,869.0 327.6,904.0 350.6,960.0 373.5,989.0 396.4,1010.0 419.3,1047.0 442.2,1053.0 465.2,1094.0 488.1,1122.0 511.0,1133.0 533.9,1157.5 556.8,1180.6 579.8,1199.0 602.7,1216.5 625.6,1227.0 648.5,1240.5 671.4,1259.0 694.4,1260.5 717.3,1273.0 740.2,1277.5 763.1,1269.0 786.0,1280.5 809.0,1282.0 831.9,1280.0 854.8,1291.0 877.7,1282.0 900.6,1293.0 923.6,1282.0 946.5,1275.5 969.4,1270.0 992.3,1247.0 1015.2,1230.0 1038.2,1211.0 1061.1,1187.0 1084.0,1179.5 1106.9,1157.5 1129.8,1133.0 1152.8,1079.0 1175.7,1060.3 1198.6,1038.0 1221.5,1025.4 1244.4,965.5 1267.4,933.7 1290.3,891.3 1313.2,818.6 1336.1,718.3 1359.0,610.2 1382.0,470.0 1404.9,416.5 1427.8,305.2 1450.7,224.6 1473.6,173.3 1496.6,129.8 1519.5,164.6 1542.4,191.3 1565.3,217.1 1588.2,250.5 1611.2,232.1 1634.1,275.4 1657.0,339.3 1679.9,381.6 1702.8,437.3 1725.8,468.6 1748.7,471.3 1771.6,518.9 1794.5,629.5 1817.4,715.6 1840.4,718.3 1863.3,678.1 1886.2,727.0 1909.1,725.6 1932.0,755.0 1955.0,742.1 1977.9,745.8 2000.8,740.2" fill="none" stroke="#0a0a0a" stroke-width="2.1" stroke-linejoin="round"/>
<rect x="158.1" y="437.9" width="18.2" height="18.2" fill="#000"/>
<rect x="181.0" y="536.9" width="18.2" height="18.2" fill="#000"/>
<rect x="203.9" y="654.9" width="18.2" height="18.2" fill="#000"/>
<rect x="226.9" y="740.9" width="18.2" height="18.2" fill="#000"/>
<rect x="249.8" y="786.9" width="18.2" height="18.2" fill="#000"/>
<rect x="272.7" y="810.9" width="18.2" height="18.2" fill="#000"/>
<rect x="295.6" y="859.9" width="18.2" height="18.2" fill="#000"/>
<rect x="318.5" y="894.9" width="18.2" height="18.2" fill="#000"/>
<rect x="341.5" y="950.9" width="18.2" height="18.2" fill="#000"/>
<rect x="364.4" y="979.9" width="18.2" height="18.2" fill="#000"/>
<rect x="387.3" y="1000.9" width="18.2" height="18.2" fill="#000"/>
<rect x="410.2" y="1037.9" width="18.2" height="18.2" fill="#000"/>
<rect x="433.1" y="1043.9" width="18.2" height="18.2" fill="#000"/>
<rect x="456.1" y="1084.9" width="18.2" height="18.2" fill="#000"/>
<rect x="479.0" y="1112.9" width="18.2" height="18.2" fill="#000"/>
<rect x="501.9" y="1123.9" width="18.2" height="18.2" fill="#000"/>
<rect x="524.8" y="1148.4" width="18.2" height="18.2" fill="#000"/>
<rect x="547.7" y="1171.5" width="18.2" height="18.2" fill="#000"/>
<rect x="570.7" y="1189.9" width="18.2" height="18.2" fill="#000"/>
<rect x="593.6" y="1207.4" width="18.2" height="18.2" fill="#000"/>
<rect x="616.5" y="1217.9" width="18.2" height="18.2" fill="#000"/>
<rect x="639.4" y="1231.4" width="18.2" height="18.2" fill="#000"/>
<rect x="662.3" y="1249.9" width="18.2" height="18.2" fill="#000"/>
<rect x="685.3" y="1251.4" width="18.2" height="18.2" fill="#000"/>
<rect x="708.2" y="1263.9" width="18.2" height="18.2" fill="#000"/>
<rect x="731.1" y="1268.4" width="18.2" height="18.2" fill="#000"/>
<rect x="754.0" y="1259.9" width="18.2" height="18.2" fill="#000"/>
<rect x="776.9" y="1271.4" width="18.2" height="18.2" fill="#000"/>
<rect x="799.9" y="1272.9" width="18.2" height="18.2" fill="#000"/>
<rect x="822.8" y="1270.9" width="18.2" height="18.2" fill="#000"/>
<rect x="845.7" y="1281.9" width="18.2" height="18.2" fill="#000"/>
<rect x="868.6" y="1272.9" width="18.2" height="18.2" fill="#000"/>
<rect x="891.5" y="1283.9" width="18.2" height="18.2" fill="#000"/>
<rect x="914.5" y="1272.9" width="18.2" height="18.2" fill="#000"/>
<rect x="937.4" y="1266.4" width="18.2" height="18.2" fill="#000"/>
<rect x="960.3" y="1260.9" width="18.2" height="18.2" fill="#000"/>
<rect x="983.2" y="1237.9" width="18.2" height="18.2" fill="#000"/>
<rect x="1006.1" y="1220.9" width="18.2" height="18.2" fill="#000"/>
<rect x="1029.1" y="1201.9" width="18.2" height="18.2" fill="#000"/>
<rect x="1052.0" y="1177.9" width="18.2" height="18.2" fill="#000"/>
<rect x="1074.9" y="1170.4" width="18.2" height="18.2" fill="#000"/>
<rect x="1097.8" y="1148.4" width="18.2" height="18.2" fill="#000"/>
<rect x="1120.7" y="1123.9" width="18.2" height="18.2" fill="#000"/>
<rect x="1143.7" y="1069.9" width="18.2" height="18.2" fill="#000"/>
<rect x="1166.6" y="1051.2" width="18.2" height="18.2" fill="#000"/>
<rect x="1189.5" y="1028.9" width="18.2" height="18.2" fill="#000"/>
<rect x="1212.4" y="1016.3" width="18.2" height="18.2" fill="#000"/>
<rect x="1235.3" y="956.4" width="18.2" height="18.2" fill="#000"/>
<rect x="1258.3" y="924.6" width="18.2" height="18.2" fill="#000"/>
<rect x="1281.2" y="882.2" width="18.2" height="18.2" fill="#000"/>
<rect x="1304.1" y="809.5" width="18.2" height="18.2" fill="#000"/>
<rect x="1327.0" y="709.2" width="18.2" height="18.2" fill="#000"/>
<rect x="1349.9" y="601.1" width="18.2" height="18.2" fill="#000"/>
<rect x="1372.9" y="460.9" width="18.2" height="18.2" fill="#000"/>
<rect x="1395.8" y="407.4" width="18.2" height="18.2" fill="#000"/>
<rect x="1418.7" y="296.1" width="18.2" height="18.2" fill="#000"/>
<rect x="1441.6" y="215.5" width="18.2" height="18.2" fill="#000"/>
<rect x="1464.5" y="164.2" width="18.2" height="18.2" fill="#000"/>
<rect x="1487.5" y="120.7" width="18.2" height="18.2" fill="#000"/>
<rect x="1510.4" y="155.5" width="18.2" height="18.2" fill="#000"/>
<rect x="1533.3" y="182.2" width="18.2" height="18.2" fill="#000"/>
<rect x="1556.2" y="208.0" width="18.2" height="18.2" fill="#000"/>
<rect x="1579.1" y="241.4" width="18.2" height="18.2" fill="#000"/>
<rect x="1602.1" y="223.0" width="18.2" height="18.2" fill="#000"/>
<rect x="1625.0" y="266.3" width="18.2" height="18.2" fill="#000"/>
<rect x="1647.9" y="330.2" width="18.2" height="18.2" fill="#000"/>
<rect x="1670.8" y="372.5" width="18.2" height="18.2" fill="#000"/>
<rect x="1693.7" y="428.2" width="18.2" height="18.2" fill="#000"/>
<rect x="1716.7" y="459.5" width="18.2" height="18.2" fill="#000"/>
<rect x="1739.6" y="462.2" width="18.2" height="18.2" fill="#000"/>
<rect x="1762.5" y="509.8" width="18.2" height="18.2" fill="#000"/>
<rect x="1785.4" y="620.4" width="18.2" height="18.2" fill="#000"/>
<rect x="1808.3" y="706.5" width="18.2" height="18.2" fill="#000"/>
<rect x="1831.3" y="709.2" width="18.2" height="18.2" fill="#000"/>
<rect x="1854.2" y="669.0" width="18.2" height="18.2" fill="#000"/>
<rect x="1877.1" y="717.9" width="18.2" height="18.2" fill="#000"/>
<rect x="1900.0" y="716.5" width="18.2" height="18.2" fill="#000"/>
<rect x="1922.9" y="745.9" width="18.2" height="18.2" fill="#000"/>
<rect x="1945.9" y="733.0" width="18.2" height="18.2" fill="#000"/>
<rect x="1968.8" y="736.7" width="18.2" height="18.2" fill="#000"/>
<rect x="1991.7" y="731.1" width="18.2" height="18.2" fill="#000"/>
</g>
<rect x="167.2" y="31.3" width="1833.6" height="1481.1" fill="none" stroke="#000" stroke-width="5.2"/>
<rect x="1507" y="955.4" width="341.4" height="480.6" fill="#fff" stroke="#333" stroke-width="2.6"/>
<path d="M1516.6 1002.3H1662" stroke="#3a3a3a" stroke-width="2.5"/>
<rect x="1580.9" y="993.2" width="18.2" height="18.2" fill="#000"/>
<text x="1681" y="1024.7" class="lg" textLength="162.6" lengthAdjust="spacingAndGlyphs">17.9%</text>
<path d="M1516.6 1082.0H1662" stroke="#3a3a3a" stroke-width="2.5"/>
<rect x="1581.9" y="1073.9" width="16.2" height="16.2" fill="#fff" stroke="#555" stroke-width="2.3"/>
<text x="1681" y="1104.4" class="lg" textLength="162.6" lengthAdjust="spacingAndGlyphs">15.8%</text>
<path d="M1516.6 1161.7H1662" stroke="#3a3a3a" stroke-width="2.5"/>
<polygon points="1590.0,1176.4 1578.2,1154.6 1601.8,1154.6" fill="#000"/>
<text x="1681" y="1184.1" class="lg" textLength="162.6" lengthAdjust="spacingAndGlyphs">13.8%</text>
<path d="M1516.6 1241.4H1662" stroke="#3a3a3a" stroke-width="2.5"/>
<polygon points="1590.0,1254.3 1580.2,1235.5 1599.8,1235.5" fill="#fff" stroke="#555" stroke-width="2.3"/>
<text x="1681" y="1263.8" class="lg" textLength="162.6" lengthAdjust="spacingAndGlyphs">11.9%</text>
<path d="M1516.6 1321.1H1662" stroke="#3a3a3a" stroke-width="2.5"/>
<polygon points="1590.0,1306.4 1578.2,1328.2 1601.8,1328.2" fill="#000"/>
<text x="1678" y="1343.5" class="lg" textLength="131.1" lengthAdjust="spacingAndGlyphs">8.8%</text>
<path d="M1516.6 1400.8H1662" stroke="#3a3a3a" stroke-width="2.5"/>
<polygon points="1590.0,1387.9 1580.2,1406.7 1599.8,1406.7" fill="#fff" stroke="#555" stroke-width="2.3"/>
<text x="1678" y="1423.2" class="lg" textLength="131.1" lengthAdjust="spacingAndGlyphs">4.7%</text>
<text x="167.7" y="1588" text-anchor="middle" class="tk">700</text>
<text x="626.1" y="1588" text-anchor="middle" class="tk">800</text>
<text x="1084.5" y="1588" text-anchor="middle" class="tk">900</text>
<text x="1542.9" y="1588" text-anchor="middle" class="tk">1000</text>
<text x="2001.3" y="1588" text-anchor="middle" class="tk">1100</text>
<text x="1084" y="1703" text-anchor="middle" class="ax xk">Wavelength (nm)</text>
<text transform="translate(93 819) rotate(-90)" text-anchor="middle" class="ax">Absorption (arb. units)</text>
</svg>
</body></html>
